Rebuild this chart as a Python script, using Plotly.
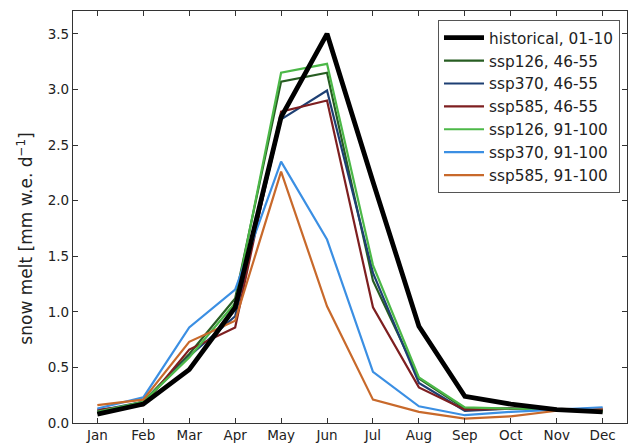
import plotly.graph_objects as go

months = ["Jan", "Feb", "Mar", "Apr", "May", "Jun", "Jul", "Aug", "Sep", "Oct", "Nov", "Dec"]

historical = [0.08, 0.17, 0.48, 1.04, 2.75, 3.50, 2.17, 0.87, 0.24, 0.17, 0.12, 0.10]
ssp126_mid = [0.09, 0.19, 0.62, 1.12, 3.07, 3.15, 1.28, 0.40, 0.13, 0.13, 0.12, 0.11]
ssp370_mid = [0.11, 0.19, 0.60, 0.96, 2.73, 2.99, 1.35, 0.36, 0.11, 0.13, 0.12, 0.12]
ssp585_mid = [0.12, 0.16, 0.66, 0.86, 2.80, 2.90, 1.04, 0.32, 0.12, 0.13, 0.12, 0.13]
ssp126_end = [0.10, 0.19, 0.59, 1.08, 3.15, 3.23, 1.42, 0.41, 0.14, 0.13, 0.12, 0.10]
ssp370_end = [0.13, 0.23, 0.86, 1.20, 2.35, 1.65, 0.46, 0.15, 0.07, 0.10, 0.12, 0.14]
ssp585_end = [0.16, 0.21, 0.73, 0.92, 2.26, 1.05, 0.21, 0.10, 0.04, 0.06, 0.11, 0.12]

y_ticks = [0, 0.5, 1, 1.5, 2, 2.5, 3, 3.5]

series = [
    ("historical, 01-10", historical, "#000000", 4.8),
    ("ssp126, 46-55", ssp126_mid, "#275d22", 2.2),
    ("ssp370, 46-55", ssp370_mid, "#1d3f73", 2.2),
    ("ssp585, 46-55", ssp585_mid, "#7e1f20", 2.2),
    ("ssp126, 91-100", ssp126_end, "#4cb848", 2.2),
    ("ssp370, 91-100", ssp370_end, "#3b8fe3", 2.2),
    ("ssp585, 91-100", ssp585_end, "#c8692b", 2.2),
]

xs = list(range(len(months)))
fig = go.Figure()
# draw historical last (on top) but keep it first in the legend
for rank, (name, vals, color, w) in enumerate(series):
    if rank == 0:
        continue
    fig.add_trace(go.Scatter(x=xs, y=vals, mode="lines", name=name,
                             line=dict(color=color, width=w), legendrank=rank + 1))
name, vals, color, w = series[0]
fig.add_trace(go.Scatter(x=xs, y=vals, mode="lines", name=name,
                         line=dict(color=color, width=w), legendrank=0))

axis_common = dict(showline=True, linecolor="#333333", linewidth=1.3, mirror="allticks",
                   ticks="inside", ticklen=5, tickwidth=1.2, tickcolor="#333333",
                   showgrid=False, zeroline=False,
                   tickfont=dict(family="DejaVu Sans", size=13.5, color="#222222"))

fig.update_layout(
    width=632, height=447,
    margin=dict(l=73, r=4, t=11, b=21),
    paper_bgcolor="white", plot_bgcolor="white",
    font=dict(family="DejaVu Sans", color="#222222"),
    xaxis=dict(range=[-0.53, 11.53], tickmode="array", tickvals=xs, ticktext=months,
               **axis_common),
    yaxis=dict(range=[0, 3.705], tickmode="array", tickvals=y_ticks,
               tickformat=".1f", **axis_common),
    legend=dict(x=0.987, y=0.978, xanchor="right", yanchor="top", bgcolor="white",
                bordercolor="#555555", borderwidth=1.2, font=dict(size=15.3, family="DejaVu Sans"),
                traceorder="normal", itemwidth=40, tracegroupgap=0),
    annotations=[dict(text="snow melt [mm w.e. d<sup>−1</sup>]", textangle=-90,
                      xref="paper", yref="paper", x=-0.087, y=0.447,
                      xanchor="center", yanchor="middle", showarrow=False,
                      font=dict(size=17, family="DejaVu Sans", color="#222222"))],
    showlegend=True,
)

fig.write_html("out.html", config={"displayModeBar": False},
               post_script="document.body.style.margin='0';document.body.style.overflow='hidden';")
